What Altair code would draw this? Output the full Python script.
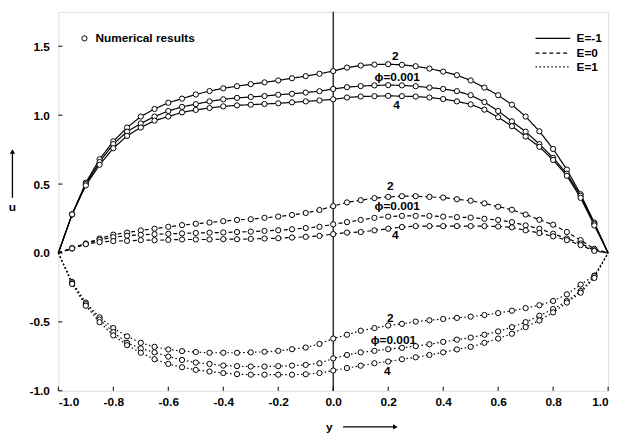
import altair as alt
import pandas as pd

# ---------------- data ----------------
Y_POS = [-0.95, -0.90, -0.85, -0.80, -0.75, -0.70, -0.65, -0.60, -0.55, -0.50,
         -0.45, -0.40, -0.35, -0.30, -0.25, -0.20, -0.15, -0.10, -0.05, 0.00,
         0.05, 0.10, 0.15, 0.20, 0.25, 0.30, 0.35, 0.40, 0.45, 0.50,
         0.55, 0.60, 0.65, 0.70, 0.75, 0.80, 0.85, 0.90, 0.95]
WALL_Y = [-1.0, 1.0]
WALL_U = [0.0, 0.0]

# E = -1 (solid)
U_EM1_2 = [0.28, 0.51, 0.68, 0.81, 0.91, 0.99, 1.045, 1.09, 1.12, 1.15,
           1.175, 1.195, 1.21, 1.225, 1.238, 1.252, 1.268, 1.283, 1.30, 1.32,
           1.345, 1.36, 1.367, 1.37, 1.365, 1.355, 1.338, 1.316, 1.29, 1.252,
           1.20, 1.145, 1.076, 0.99, 0.883, 0.755, 0.605, 0.426, 0.22]
U_EM1_P = [0.28, 0.50, 0.66, 0.79, 0.88, 0.94, 0.99, 1.03, 1.06, 1.08,
           1.10, 1.115, 1.125, 1.132, 1.139, 1.148, 1.155, 1.164, 1.174, 1.19,
           1.203, 1.211, 1.216, 1.218, 1.216, 1.21, 1.20, 1.19, 1.174, 1.145,
           1.095, 1.03, 0.955, 0.88, 0.79, 0.69, 0.575, 0.415, 0.21]
U_EM1_4 = [0.28, 0.49, 0.64, 0.76, 0.85, 0.91, 0.96, 0.99, 1.02, 1.038,
           1.052, 1.064, 1.071, 1.076, 1.081, 1.086, 1.093, 1.10, 1.107, 1.115,
           1.128, 1.135, 1.138, 1.14, 1.138, 1.135, 1.128, 1.117, 1.10, 1.078,
           1.04, 0.985, 0.92, 0.845, 0.77, 0.675, 0.56, 0.40, 0.20]
# E = 0 (dashed)
U_E0_2 = [0.035, 0.069, 0.105, 0.133, 0.148, 0.164, 0.176, 0.19, 0.202, 0.212,
          0.221, 0.231, 0.24, 0.245, 0.255, 0.264, 0.276, 0.29, 0.312, 0.34,
          0.367, 0.383, 0.398, 0.407, 0.412, 0.412, 0.407, 0.402, 0.39, 0.379,
          0.36, 0.336, 0.314, 0.279, 0.241, 0.205, 0.152, 0.093, 0.03]
U_E0_P = [0.033, 0.066, 0.095, 0.115, 0.125, 0.132, 0.136, 0.139, 0.142, 0.145,
          0.147, 0.149, 0.152, 0.155, 0.16, 0.165, 0.172, 0.181, 0.19, 0.208,
          0.224, 0.24, 0.255, 0.264, 0.269, 0.269, 0.269, 0.264, 0.26, 0.257,
          0.248, 0.24, 0.224, 0.20, 0.176, 0.14, 0.105, 0.069, 0.02]
U_E0_4 = [0.033, 0.064, 0.079, 0.086, 0.088, 0.093, 0.093, 0.095, 0.098, 0.098,
          0.098, 0.10, 0.10, 0.102, 0.105, 0.107, 0.112, 0.117, 0.124, 0.137,
          0.148, 0.152, 0.164, 0.176, 0.188, 0.195, 0.195, 0.195, 0.195, 0.195,
          0.195, 0.192, 0.186, 0.164, 0.145, 0.121, 0.093, 0.057, 0.015]
# E = 1 (dotted)
U_E1_2 = [-0.21, -0.36, -0.467, -0.545, -0.605, -0.652, -0.681, -0.70, -0.712, -0.719,
          -0.724, -0.724, -0.724, -0.721, -0.717, -0.71, -0.698, -0.686, -0.66, -0.621,
          -0.593, -0.564, -0.545, -0.526, -0.514, -0.498, -0.488, -0.479, -0.471, -0.462,
          -0.45, -0.436, -0.419, -0.40, -0.379, -0.348, -0.30, -0.229, -0.164]
U_E1_P = [-0.22, -0.371, -0.483, -0.574, -0.652, -0.693, -0.721, -0.752, -0.776, -0.795,
          -0.805, -0.817, -0.821, -0.824, -0.824, -0.821, -0.817, -0.812, -0.80, -0.765,
          -0.74, -0.721, -0.71, -0.698, -0.688, -0.676, -0.662, -0.645, -0.629, -0.614,
          -0.593, -0.569, -0.538, -0.502, -0.455, -0.407, -0.348, -0.276, -0.169]
U_E1_4 = [-0.224, -0.383, -0.502, -0.598, -0.669, -0.724, -0.771, -0.805, -0.829, -0.848,
          -0.86, -0.871, -0.879, -0.883, -0.883, -0.883, -0.883, -0.88, -0.871, -0.853,
          -0.835, -0.818, -0.80, -0.788, -0.771, -0.757, -0.74, -0.721, -0.70, -0.681,
          -0.652, -0.621, -0.586, -0.538, -0.49, -0.431, -0.36, -0.288, -0.181]

E_LABELS = ["E=-1", "E=0", "E=1"]
CURVE_NAMES = ["2", "phi", "4"]

# curve annotations
LABEL_TEXT = ["2", "ϕ=0.001", "4", "2", "ϕ=0.001", "4", "2", "ϕ=0.001", "4"]
LABEL_X = [0.226, 0.233, 0.23, 0.208, 0.233, 0.226, 0.208, 0.219, 0.197]
LABEL_U = [1.43, 1.28, 1.07, 0.486, 0.343, 0.129, -0.471, -0.629, -0.857]

X_TICKS = [-1.0, -0.8, -0.6, -0.4, -0.2, 0.0, 0.2, 0.4, 0.6, 0.8, 1.0]
Y_TICKS = [-1.0, -0.5, 0.0, 0.5, 1.0, 1.5]
X_DOMAIN = [-1.0, 1.0]
Y_DOMAIN = [-1.0, 1.75]

# legend (top right) and marker key (top left)
LEG_X0, LEG_X1, LEG_TX = 0.736, 0.862, 0.885
LEG_U = [1.557, 1.45, 1.35]
KEY_X, KEY_TX, KEY_U = -0.905, -0.865, 1.557
KEY_TEXT = "Numerical results"

# axis name annotations with arrows
U_NAME_X, U_NAME_U = -1.167, 0.33
U_ARROW_U = [0.40, 0.736]
Y_NAME_X, Y_NAME_U = -0.014, -1.262
Y_ARROW_X = [0.036, 0.226]

FONT = "Liberation Sans"
FS = 12

# ---------------- tables ----------------
series = {
    "E=-1": [U_EM1_2, U_EM1_P, U_EM1_4],
    "E=0": [U_E0_2, U_E0_P, U_E0_4],
    "E=1": [U_E1_2, U_E1_P, U_E1_4],
}
rows = []
for e in E_LABELS:
    for name, vals in zip(CURVE_NAMES, series[e]):
        cid = e + "|" + name
        rows.append(dict(y=WALL_Y[0], u=WALL_U[0], E=e, curve=cid, pt=False))
        for yv, uv in zip(Y_POS, vals):
            rows.append(dict(y=yv, u=uv, E=e, curve=cid, pt=True))
        rows.append(dict(y=WALL_Y[1], u=WALL_U[1], E=e, curve=cid, pt=False))
df = pd.DataFrame(rows)
pts = df[df.pt]

lab_df = pd.DataFrame(dict(t=LABEL_TEXT, x=LABEL_X, u=LABEL_U))
leg_df = pd.DataFrame(dict(E=E_LABELS, x0=[LEG_X0] * 3, x1=[LEG_X1] * 3,
                           tx=[LEG_TX] * 3, u=LEG_U))

xs = alt.Scale(domain=X_DOMAIN, nice=False, zero=False)
ys = alt.Scale(domain=Y_DOMAIN, nice=False, zero=False)
dash = alt.Scale(domain=E_LABELS, range=[[1, 0], [4, 3], [1.5, 2.5]])

lab_expr = "replace(format(datum.value, '.1f'), '\u2212', '-')"
x_axis = alt.Axis(values=X_TICKS, labelExpr=lab_expr, title=None, grid=False,
                  domain=False, ticks=False, labelPadding=6, labelFont=FONT,
                  labelFontSize=FS, labelFontWeight="bold", labelColor="black")
y_axis = alt.Axis(values=Y_TICKS, labelExpr=lab_expr, title=None, grid=False,
                  domain=False, ticks=False, labelPadding=9, labelFont=FONT,
                  labelFontSize=FS, labelFontWeight="bold", labelColor="black")

base = alt.Chart(df)

lines = base.mark_line(color="black", strokeWidth=1.2).encode(
    x=alt.X("y:Q", scale=xs, axis=x_axis),
    y=alt.Y("u:Q", scale=ys, axis=y_axis),
    detail="curve:N",
    order="y:Q",
    strokeDash=alt.StrokeDash("E:N", scale=dash, legend=None),
)

points = alt.Chart(pts).mark_point(shape="circle", filled=True, fill="white",
                                   stroke="black", strokeWidth=1.0, size=28,
                                   opacity=1).encode(
    x=alt.X("y:Q", scale=xs), y=alt.Y("u:Q", scale=ys))

zero_line = alt.Chart(pd.DataFrame(dict(x=[0.0], a=[Y_DOMAIN[0]], b=[Y_DOMAIN[1]]))).mark_rule(
    color="black", strokeWidth=1.2).encode(
    x=alt.X("x:Q", scale=xs), y=alt.Y("a:Q", scale=ys), y2="b:Q")

# inward ticks
xt = pd.DataFrame(dict(x=X_TICKS, a=[Y_DOMAIN[0]] * len(X_TICKS),
                       b=[Y_DOMAIN[0] + 0.03] * len(X_TICKS)))
yt = pd.DataFrame(dict(u=Y_TICKS, a=[X_DOMAIN[0]] * len(Y_TICKS),
                       b=[X_DOMAIN[0] + 0.015] * len(Y_TICKS)))
xticks = alt.Chart(xt).mark_rule(color="black", strokeWidth=1).encode(
    x=alt.X("x:Q", scale=xs), y=alt.Y("a:Q", scale=ys), y2="b:Q")
yticks = alt.Chart(yt).mark_rule(color="black", strokeWidth=1).encode(
    y=alt.Y("u:Q", scale=ys), x=alt.X("a:Q", scale=xs), x2="b:Q")

labels = alt.Chart(lab_df).mark_text(font=FONT, fontSize=FS, fontWeight="bold",
                                     color="black", align="center",
                                     baseline="middle").encode(
    x=alt.X("x:Q", scale=xs), y=alt.Y("u:Q", scale=ys), text="t:N")

leg_lines = alt.Chart(leg_df).mark_rule(color="black", strokeWidth=1.2).encode(
    x=alt.X("x0:Q", scale=xs), x2="x1:Q", y=alt.Y("u:Q", scale=ys),
    strokeDash=alt.StrokeDash("E:N", scale=dash, legend=None))
leg_text = alt.Chart(leg_df).mark_text(font=FONT, fontSize=FS, fontWeight="bold",
                                       color="black", align="left",
                                       baseline="middle").encode(
    x=alt.X("tx:Q", scale=xs), y=alt.Y("u:Q", scale=ys), text="E:N")

key_df = pd.DataFrame(dict(x=[KEY_X], tx=[KEY_TX], u=[KEY_U], t=[KEY_TEXT]))
key_pt = alt.Chart(key_df).mark_point(shape="circle", filled=True, fill="white",
                                      stroke="black", strokeWidth=1.0, size=28,
                                      opacity=1).encode(
    x=alt.X("x:Q", scale=xs), y=alt.Y("u:Q", scale=ys))
key_txt = alt.Chart(key_df).mark_text(font=FONT, fontSize=FS, fontWeight="bold",
                                      color="black", align="left",
                                      baseline="middle").encode(
    x=alt.X("tx:Q", scale=xs), y=alt.Y("u:Q", scale=ys), text="t:N")

# axis names with arrows
names_df = pd.DataFrame(dict(x=[U_NAME_X, Y_NAME_X], u=[U_NAME_U, Y_NAME_U], t=["u", "y"]))
names = alt.Chart(names_df).mark_text(font=FONT, fontSize=FS, fontWeight="bold",
                                      color="black", align="center",
                                      baseline="middle").encode(
    x=alt.X("x:Q", scale=xs), y=alt.Y("u:Q", scale=ys), text="t:N")
up_arrow = alt.Chart(pd.DataFrame(dict(x=[U_NAME_X], a=[U_ARROW_U[0]], b=[U_ARROW_U[1]]))).mark_rule(
    color="black", strokeWidth=1.3).encode(
    x=alt.X("x:Q", scale=xs), y=alt.Y("a:Q", scale=ys), y2="b:Q")
up_head = alt.Chart(pd.DataFrame(dict(x=[U_NAME_X], u=[U_ARROW_U[1]]))).mark_point(
    shape="triangle-up", filled=True, color="black", size=28, opacity=1).encode(
    x=alt.X("x:Q", scale=xs), y=alt.Y("u:Q", scale=ys))
right_arrow = alt.Chart(pd.DataFrame(dict(a=[Y_ARROW_X[0]], b=[Y_ARROW_X[1]], u=[Y_NAME_U]))).mark_rule(
    color="black", strokeWidth=1.3).encode(
    x=alt.X("a:Q", scale=xs), x2="b:Q", y=alt.Y("u:Q", scale=ys))
right_head = alt.Chart(pd.DataFrame(dict(x=[Y_ARROW_X[1]], u=[Y_NAME_U]))).mark_point(
    shape="triangle-right", filled=True, color="black", size=28, opacity=1).encode(
    x=alt.X("x:Q", scale=xs), y=alt.Y("u:Q", scale=ys))

chart = alt.layer(
    zero_line, xticks, yticks, lines, points, labels, leg_lines, leg_text,
    key_pt, key_txt, names, up_arrow, up_head, right_arrow, right_head,
).properties(
    width=557, height=384,
    autosize=alt.AutoSizeParams(type="none"),
    padding={"left": 51, "top": 1, "right": 8, "bottom": 47},
).configure_view(stroke="black", strokeWidth=1.3).configure(background="white")

chart.save("out.html", embed_options={"renderer": "svg", "actions": False})
